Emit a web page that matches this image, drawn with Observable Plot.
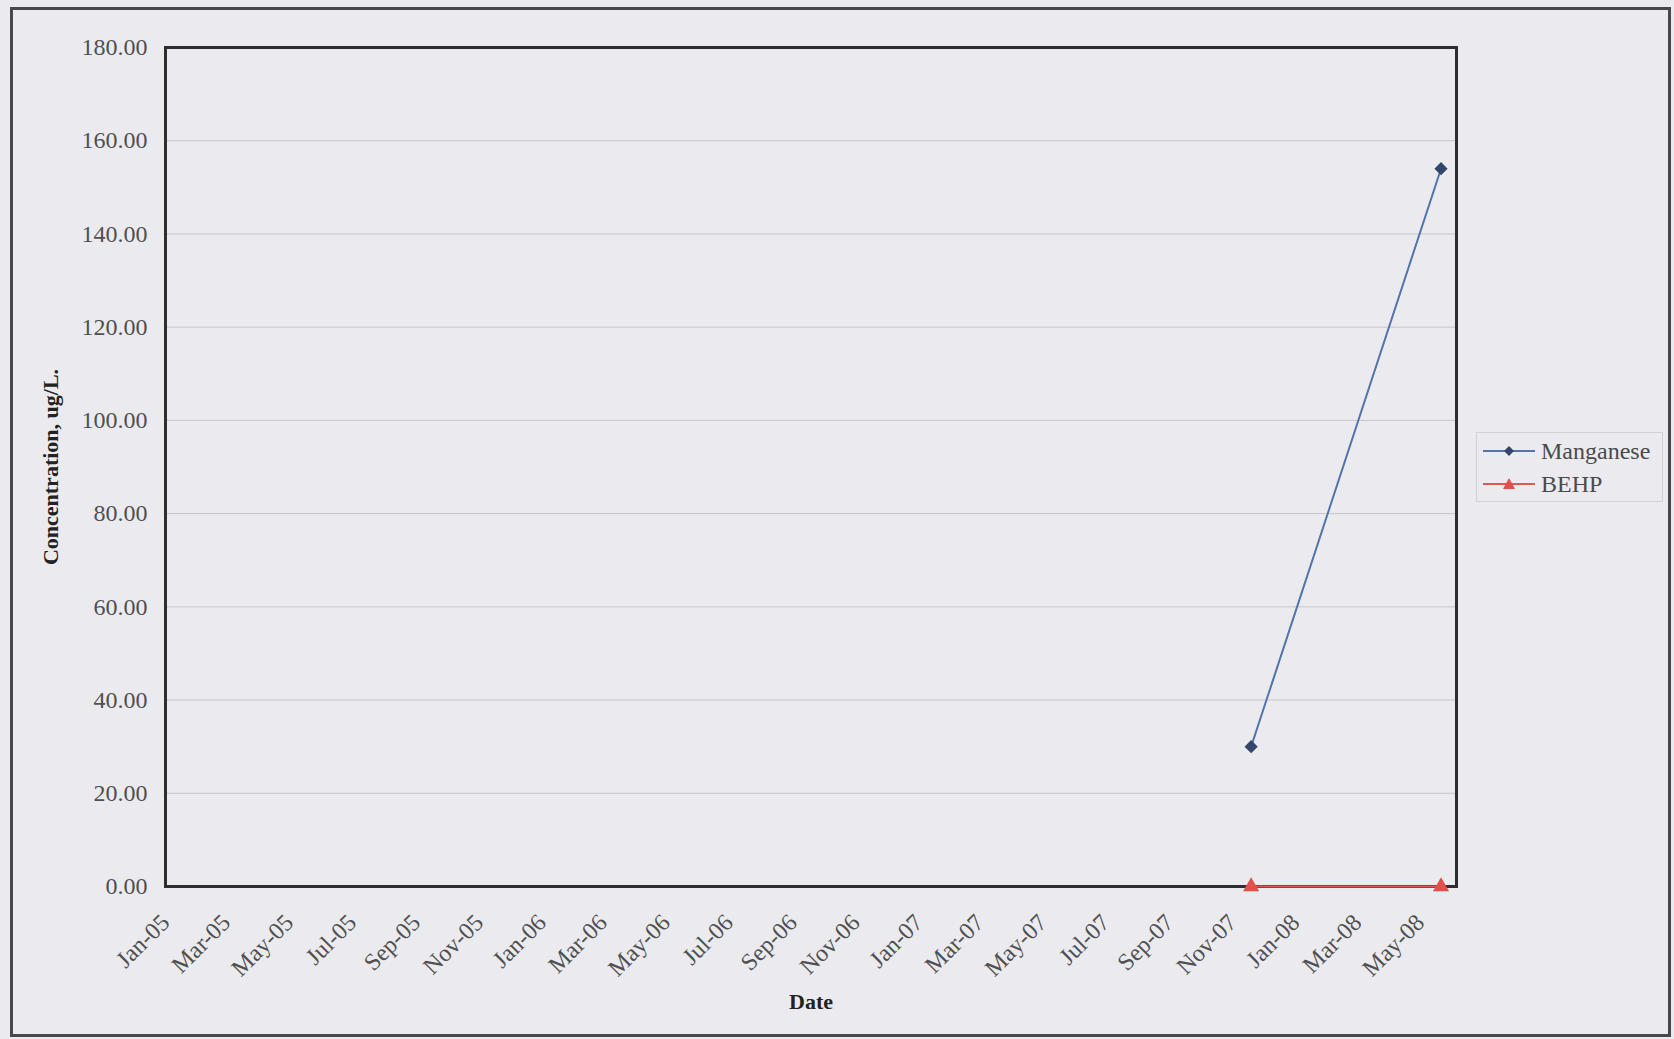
<!DOCTYPE html>
<html>
<head>
<meta charset="utf-8">
<script src="https://cdn.jsdelivr.net/npm/d3@7"></script>
<script src="https://cdn.jsdelivr.net/npm/@observablehq/plot@0.6"></script>
<style>
  html, body { margin: 0; padding: 0; background: #ebebef; }
  #wrap { position: relative; width: 1674px; height: 1039px; overflow: hidden;
          font-family: "Liberation Serif", "Times New Roman", serif; }
  #border { position: absolute; left: 10px; top: 7px; width: 1655px; height: 1024px;
            border: 3px solid #48484c; pointer-events: none; }
  #chart { position: absolute; left: 0; top: 0; }
  #legend { position: absolute; left: 1476px; top: 432px; width: 187px; height: 70px;
            box-sizing: border-box; border: 1px solid #d2d2d6; }
  .item { position: absolute; left: 6px; height: 30px; display: flex; align-items: center;
          font-size: 24px; color: #4a4a4a; }
  .item svg { margin-right: 6px; }
  #chart [aria-label$="axis label"] text, #chart [aria-label$="axis label"] { font-weight: bold; fill: #222; font-size: 22px; }
</style>
</head>
<body>
<div id="wrap">
  <div id="chart"></div>
  <div id="border"></div>
  <div id="legend"></div>
</div>
<script>
// ---- data ----
const seriesNames = ["Manganese", "BEHP"];
const seriesColors = ["#5274ab", "#e05a52"];
const markerColors = ["#34466b", "#e2504c"];
const manganeseDates = ["2007-11-19", "2008-05-21"];
const manganeseValues = [30.0, 154.0];
const behpDates = ["2007-11-19", "2008-05-21"];
const behpValues = [0.0, 0.0];
const yTicks = [0, 20, 40, 60, 80, 100, 120, 140, 160, 180];
const xTickLabels = ["Jan-05", "Mar-05", "May-05", "Jul-05", "Sep-05", "Nov-05",
  "Jan-06", "Mar-06", "May-06", "Jul-06", "Sep-06", "Nov-06",
  "Jan-07", "Mar-07", "May-07", "Jul-07", "Sep-07", "Nov-07",
  "Jan-08", "Mar-08", "May-08"];
const xDomain = ["2005-01-01", "2008-06-05"];
const yLabel = "Concentration, ug/L.";
const xLabel = "Date";

// ---- build ----
const parse = d3.utcParse("%Y-%m-%d");
const parseTick = d3.utcParse("%b-%y");
const xTicks = xTickLabels.map(parseTick);
const mn = manganeseDates.map((d, i) => ({series: "Manganese", date: parse(d), value: manganeseValues[i]}));
const behp = behpDates.map((d, i) => ({series: "BEHP", date: parse(d), value: behpValues[i]}));

const chart = Plot.plot({
  width: 1674,
  height: 1039,
  marginLeft: 165,
  marginRight: 218,
  marginTop: 47,
  marginBottom: 153,
  style: {background: "transparent", fontFamily: "Liberation Serif, Times New Roman, serif", fontSize: "24px", color: "#505050", overflow: "visible"},
  x: {
    type: "utc",
    domain: xDomain.map(parse),
    ticks: xTicks,
    tickFormat: d3.utcFormat("%b-%y"),
    tickRotate: -45,
    tickSize: 0,
    tickPadding: 32,
    label: xLabel,
    labelAnchor: "center",
    labelOffset: 122,
    labelArrow: "none"
  },
  y: {
    domain: [0, 180],
    ticks: yTicks,
    tickFormat: d3.format(".2f"),
    tickSize: 0,
    tickPadding: 18,
    label: yLabel,
    labelAnchor: "center",
    labelOffset: 123,
    labelArrow: "none"
  },
  marks: [
    Plot.ruleY(yTicks.filter(v => v > 0 && v < 180), {stroke: "#c6c6ca", strokeWidth: 1}),
    Plot.frame({stroke: "#2e2e30", strokeWidth: 3}),
    Plot.line(mn, {x: "date", y: "value", stroke: seriesColors[0], strokeWidth: 2}),
    Plot.dot(mn, {x: "date", y: "value", symbol: "diamond2", fill: markerColors[0], stroke: markerColors[0], r: 5}),
    Plot.line(behp, {x: "date", y: "value", stroke: seriesColors[1], strokeWidth: 2}),
    Plot.dot(behp, {x: "date", y: "value", symbol: "triangle", fill: markerColors[1], r: 6})
  ]
});
document.getElementById("chart").appendChild(chart);

// legend
const legend = document.getElementById("legend");
seriesNames.forEach((name, i) => {
  const div = document.createElement("div");
  div.className = "item";
  div.style.top = (i === 0 ? 3 : 36) + "px";
  const sym = i === 0
    ? `<path d="M26,10 L31,15 L26,20 L21,15 Z" fill="${markerColors[0]}"/>`
    : `<path d="M26,9 L32,20 L20,20 Z" fill="${markerColors[1]}"/>`;
  div.innerHTML = `<svg width="52" height="30"><line x1="0" x2="52" y1="15" y2="15" stroke="${seriesColors[i]}" stroke-width="2"/>${sym}</svg><span>${name}</span>`;
  legend.appendChild(div);
});
</script>
</body>
</html>
